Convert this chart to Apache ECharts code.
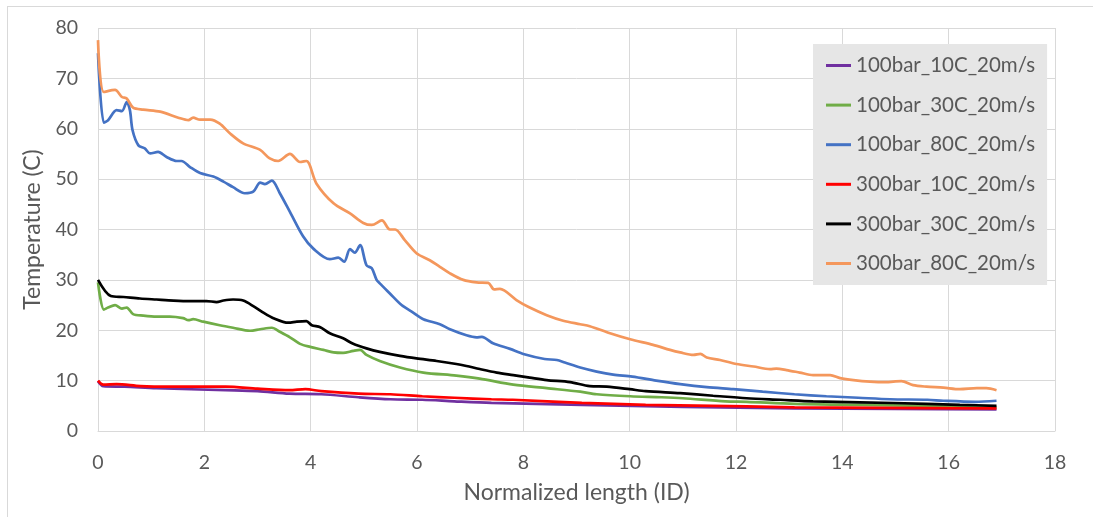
<!DOCTYPE html>
<html>
<head>
<meta charset="utf-8">
<title>Temperature along normalized length</title>
<script src="https://cdn.jsdelivr.net/npm/echarts@6/dist/echarts.min.js"></script>
<style>
  html, body { margin: 0; padding: 0; background: #ffffff; }
  #frame {
    position: absolute; left: 7px; top: 6px; width: 1100px; height: 520px;
    border: 1px solid #d9d9d9; box-sizing: border-box;
  }
  #chart { position: absolute; left: 0; top: 0; width: 1093px; height: 517px; }
</style>
</head>
<body>
<div id="frame"></div>
<div id="chart"></div>
<script>
// Series names, in legend order
const seriesNames = [
  '100bar_10C_20m/s',
  '100bar_30C_20m/s',
  '100bar_80C_20m/s',
  '300bar_10C_20m/s',
  '300bar_30C_20m/s',
  '300bar_80C_20m/s'
];

// [normalized length (ID), temperature (C)]
const t100bar10C = [
  [0,9.9],[0.1,8.9],[0.5,8.8],[1.1,8.5],[2.4,8.1],[3.0,7.9],[3.6,7.4],[4.2,7.3],
  [4.9,6.7],[5.5,6.3],[6.1,6.2],[6.7,5.9],[7.4,5.6],[9.1,5.2],[11.0,4.8],[13.1,4.5],
  [15.0,4.4],[16.9,4.3]
];
const t100bar30C = [
  [0,29.5],[0.11,24.1],[0.19,24.5],[0.32,25.0],[0.45,24.3],[0.54,24.5],[0.66,23.2],
  [0.85,22.9],[1.1,22.7],[1.35,22.7],[1.6,22.4],[1.7,22.0],[1.79,22.2],[1.98,21.7],
  [2.29,21.0],[2.54,20.5],[2.86,19.9],[3.05,20.2],[3.27,20.5],[3.42,19.7],[3.61,18.6],
  [3.8,17.3],[3.99,16.7],[4.24,16.1],[4.43,15.6],[4.61,15.5],[4.8,15.9],[4.93,16.1],
  [5.05,15.1],[5.3,13.9],[5.68,12.6],[6.12,11.6],[6.74,11.0],[7.18,10.4],[7.81,9.2],
  [8.44,8.5],[9.07,7.8],[9.38,7.3],[10.01,6.9],[10.6,6.7],[11.0,6.5],[11.8,5.9],
  [12.2,5.8],[13.1,5.4],[14.3,5.2],[15.6,5.0],[16.9,4.7]
];
const t100bar80C = [
  [0,75.0],[0.11,61.2],[0.19,61.7],[0.35,63.7],[0.45,63.5],[0.54,65.3],[0.6,63.7],
  [0.65,59.7],[0.76,56.7],[0.88,56.1],[0.98,55.1],[1.13,55.4],[1.29,54.4],[1.48,53.6],
  [1.57,53.6],[1.73,52.4],[1.92,51.2],[2.17,50.5],[2.36,49.5],[2.54,48.4],[2.76,47.2],
  [2.92,47.5],[3.05,49.3],[3.14,49.0],[3.27,49.7],[3.42,47.2],[3.61,43.5],[3.86,38.6],
  [4.05,36.2],[4.36,34.1],[4.52,34.4],[4.63,33.6],[4.74,36.1],[4.83,35.4],[4.93,36.9],
  [5.05,32.9],[5.15,32.3],[5.24,30.0],[5.3,29.3],[5.49,27.3],[5.71,25.0],[5.9,23.7],
  [6.12,22.2],[6.43,21.2],[6.62,20.2],[6.93,19.0],[7.12,18.6],[7.22,18.7],[7.43,17.4],
  [7.75,16.3],[8.0,15.3],[8.4,14.3],[8.63,14.1],[8.78,13.6],[9.07,12.6],[9.38,11.8],
  [9.69,11.2],[10.05,10.8],[10.5,10.0],[10.95,9.3],[11.45,8.7],[11.95,8.3],[12.5,7.8],
  [13.1,7.3],[13.7,6.9],[14.3,6.6],[14.9,6.3],[15.6,6.2],[15.9,6.0],[16.5,5.8],[16.9,6.0]
];
const t300bar10C = [
  [0,10.0],[0.1,9.2],[0.35,9.3],[0.8,8.9],[1.4,8.8],[2.4,8.8],[3.0,8.4],[3.6,8.1],
  [3.9,8.3],[4.2,7.9],[4.9,7.4],[5.5,7.3],[6.1,6.9],[6.7,6.6],[7.4,6.3],[7.8,6.2],
  [9.1,5.6],[10.3,5.2],[12.2,4.9],[13.1,4.7],[14.7,4.6],[16.9,4.5]
];
const t300bar30C = [
  [0,30.0],[0.24,26.8],[0.48,26.6],[0.79,26.3],[1.1,26.1],[1.42,25.9],[1.73,25.8],
  [2.04,25.8],[2.23,25.6],[2.36,25.9],[2.54,26.1],[2.73,25.9],[2.92,24.8],[3.11,23.5],
  [3.3,22.4],[3.58,21.5],[3.74,21.7],[3.92,21.8],[4.02,21.0],[4.18,20.6],[4.36,19.4],
  [4.61,18.4],[4.8,17.3],[5.05,16.4],[5.3,15.7],[5.68,14.9],[5.99,14.4],[6.37,13.9],
  [6.74,13.3],[6.93,12.9],[7.18,12.3],[7.5,11.6],[7.81,11.1],[8.12,10.6],[8.44,10.1],
  [8.88,9.7],[9.25,8.9],[9.57,8.8],[10.0,8.3],[10.3,7.9],[10.95,7.5],[11.57,7.0],
  [12.2,6.5],[12.83,6.2],[13.45,5.9],[14.33,5.7],[15.58,5.4],[16.21,5.2],[16.9,5.0]
];
const t300bar80C = [
  [0,77.6],[0.11,67.3],[0.32,67.7],[0.45,66.3],[0.54,66.0],[0.66,64.2],[0.85,63.8],
  [1.17,63.4],[1.51,62.2],[1.7,61.7],[1.79,62.2],[1.92,61.8],[2.11,61.8],[2.29,61.0],
  [2.48,59.1],[2.73,57.1],[3.05,55.8],[3.23,54.1],[3.39,53.6],[3.61,55.0],[3.8,53.4],
  [3.92,53.6],[4.11,49.1],[4.43,45.2],[4.74,43.2],[4.99,41.3],[5.15,40.9],[5.34,41.8],
  [5.49,40.0],[5.59,40.0],[5.77,37.9],[5.99,35.3],[6.24,33.9],[6.43,32.6],[6.62,31.3],
  [6.87,30.0],[7.12,29.5],[7.34,29.4],[7.45,28.1],[7.56,28.2],[7.87,26.0],[8.1,24.6],
  [8.44,23.0],[8.75,21.9],[9.07,21.2],[9.25,20.8],[9.63,19.4],[10.01,18.2],[10.44,17.1],
  [10.76,16.1],[10.95,15.6],[11.2,15.1],[11.33,15.3],[11.45,14.6],[11.7,14.1],[12.01,13.3],
  [12.33,12.8],[12.64,12.3],[12.76,12.4],[12.95,12.1],[13.2,11.6],[13.45,11.1],[13.77,11.1],
  [13.96,10.5],[14.21,10.1],[14.52,9.8],[14.83,9.7],[14.96,9.8],[15.11,9.9],[15.33,9.1],
  [15.58,8.8],[15.9,8.6],[16.21,8.3],[16.53,8.5],[16.71,8.5],[16.9,8.1]
];

const seriesData = [t100bar10C, t100bar30C, t100bar80C, t300bar10C, t300bar30C, t300bar80C];
const seriesColors = ['#7030A0', '#70AD47', '#4472C4', '#FF0000', '#000000', '#F4975C'];

// Axis ranges and captions
const xAxisRange = { min: 0, max: 18, step: 2 };
const yAxisRange = { min: 0, max: 80, step: 10 };
const xAxisTitle = 'Normalized length (ID)';
const yAxisTitle = 'Temperature (C)';

const FONT = 'Lato, "Liberation Sans", sans-serif';
const TEXT = '#595959';
const GRID = '#d9d9d9';

const chart = echarts.init(document.getElementById('chart'), null, { renderer: 'canvas' });

chart.setOption({
  animation: false,
  backgroundColor: 'transparent',
  textStyle: { fontFamily: FONT },
  grid: { left: 98, top: 28, right: 38, bottom: 86, containLabel: false },
  legend: {
    orient: 'vertical',
    left: 813,
    top: 44,
    padding: [11, 12, 11, 13],
    backgroundColor: '#e6e6e6',
    borderWidth: 0,
    icon: 'rect',
    itemWidth: 25,
    itemHeight: 3,
    itemGap: 18.6,
    textStyle: { fontFamily: FONT, fontSize: 20.5, color: TEXT, lineHeight: 20 },
    data: seriesNames
  },
  xAxis: {
    type: 'value',
    min: xAxisRange.min,
    max: xAxisRange.max,
    interval: xAxisRange.step,
    name: xAxisTitle,
    nameLocation: 'middle',
    nameGap: 50,
    nameTextStyle: { fontFamily: FONT, fontSize: 23, color: TEXT },
    axisLine: { show: true, lineStyle: { color: GRID, width: 1 } },
    axisTick: { show: false },
    axisLabel: { fontFamily: FONT, fontSize: 19.5, color: TEXT, margin: 22 },
    splitLine: { show: true, lineStyle: { color: GRID, width: 1 } }
  },
  yAxis: {
    type: 'value',
    min: yAxisRange.min,
    max: yAxisRange.max,
    interval: yAxisRange.step,
    name: yAxisTitle,
    nameLocation: 'middle',
    nameGap: 48,
    nameTextStyle: { fontFamily: FONT, fontSize: 23, color: TEXT },
    axisLine: { show: false },
    axisTick: { show: false },
    axisLabel: { fontFamily: FONT, fontSize: 19.5, color: TEXT, margin: 20 },
    splitLine: { show: true, lineStyle: { color: GRID, width: 1 } }
  },
  series: seriesNames.map((name, i) => ({
    name: name,
    type: 'line',
    data: seriesData[i],
    showSymbol: false,
    symbol: 'none',
    smooth: 0.3,
    color: seriesColors[i],
    lineStyle: { width: 2.7, color: seriesColors[i] },
    z: 2 + i
  }))
});
</script>
</body>
</html>
